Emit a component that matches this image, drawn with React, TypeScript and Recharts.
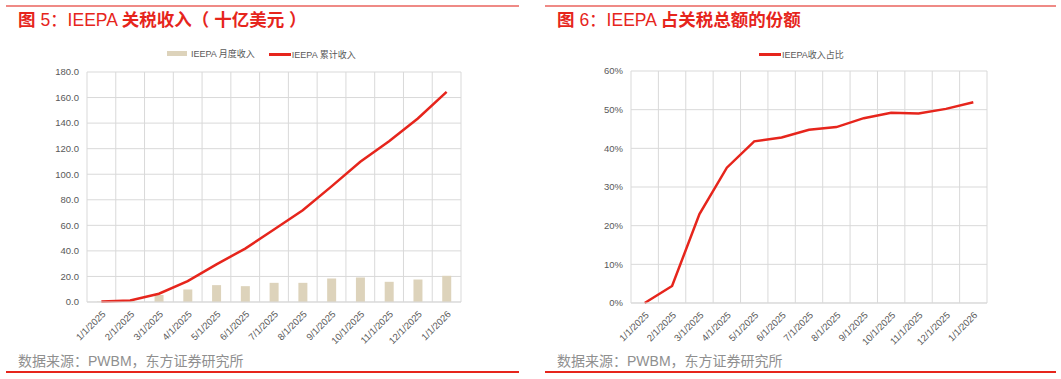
import React from "react";
import {
  Bar,
  CartesianGrid,
  ComposedChart,
  Line,
  LineChart,
  XAxis,
  YAxis,
} from "recharts";

const months = [
  "1/1/2025",
  "2/1/2025",
  "3/1/2025",
  "4/1/2025",
  "5/1/2025",
  "6/1/2025",
  "7/1/2025",
  "8/1/2025",
  "9/1/2025",
  "10/1/2025",
  "11/1/2025",
  "12/1/2025",
  "1/1/2026",
];

// 十亿美元
const monthlyRevenue = [0.3, 0.9, 5.5, 9.8, 13.2, 12.4, 15.0, 15.0, 18.4, 19.2, 15.8, 17.6, 20.5];
const cumulativeRevenue = [0.3, 1.2, 6.5, 16.3, 29.5, 41.8, 56.8, 71.8, 90.5, 109.7, 125.8, 143.6, 164.5];

// %
const ieepaShare = [0, 4.4, 23.0, 35.0, 41.8, 42.8, 44.8, 45.5, 47.8, 49.2, 49.0, 50.2, 51.9];

const revenueTicks = [0, 20, 40, 60, 80, 100, 120, 140, 160, 180];
const shareTicks = [0, 10, 20, 30, 40, 50, 60];

const RED = "#e6251c";
const BEIGE = "#ddd3bb";
const GRID = "#d9d9d9";
const TEXT = "#595959";
const FONT = '"Liberation Sans", Arial, "Noto Sans CJK SC", sans-serif';

const revenueRows = months.map((m, i) => ({
  month: m,
  monthly: monthlyRevenue[i],
  cumulative: cumulativeRevenue[i],
}));

const shareRows = months.map((m, i) => ({ month: m, share: ieepaShare[i] }));

// Excel-style category grid: vertical lines on the band boundaries
const bandLines = (n: number) => (props: any) => {
  const off = props?.offset ?? {};
  const left = off.left ?? 0;
  const width = off.width ?? 0;
  return Array.from({ length: n + 1 }, (_, i) => left + (i * width) / n);
};

const tickStyle = { fontSize: 9.5, fill: TEXT, fontFamily: FONT };

// title pieces: [text, bold]
type Piece = [string, boolean];

function Panel({
  left,
  width,
  title,
  children,
}: {
  left: number;
  width: number;
  title: Piece[];
  children: React.ReactNode;
}) {
  return (
    <div style={{ position: "absolute", left, top: 0, width, height: 379 }}>
      <div style={{ position: "absolute", left: 0, right: 0, top: 5, height: 2, background: "#ef8a86" }} />
      <div
        style={{
          position: "absolute",
          left: 12,
          top: 8,
          fontSize: 17.5,
          color: RED,
          fontFamily: FONT,
          whiteSpace: "pre",
          lineHeight: "24px",
        }}
      >
        {title.map(([t, b], i) => (
          <span key={i} style={{ fontWeight: b ? 700 : 400 }}>
            {t}
          </span>
        ))}
      </div>
      {children}
      <div
        style={{
          position: "absolute",
          left: 12,
          top: 351,
          fontSize: 14,
          color: "#8f8f8f",
          fontFamily: FONT,
          whiteSpace: "nowrap",
          lineHeight: "20px",
        }}
      >
        数据来源：PWBM，东方证券研究所
      </div>
      <div style={{ position: "absolute", left: 0, right: 0, top: 371, height: 2, background: RED }} />
    </div>
  );
}

function LegendItem({ kind, label }: { kind: "bar" | "line"; label: string }) {
  return (
    <span style={{ display: "inline-flex", alignItems: "center", marginRight: 14 }}>
      <span
        style={{
          display: "inline-block",
          width: kind === "bar" ? 20 : 22,
          height: kind === "bar" ? 5 : 3,
          background: kind === "bar" ? BEIGE : RED,
          marginRight: kind === "bar" ? 4 : 1,
        }}
      />
      <span style={{ fontSize: 9, color: TEXT, fontFamily: FONT }}>{label}</span>
    </span>
  );
}

export default function App() {
  return (
    <div style={{ position: "absolute", left: 0, top: 0, width: 1061, height: 379, background: "#fff" }}>
      <Panel
        left={6}
        width={513}
        title={[
          ["图 ", true],
          ["5：IEEPA ", false],
          ["关税收入（ 十亿美元 ）", true],
        ]}
      >
        <div style={{ position: "absolute", left: 161, top: 44, whiteSpace: "nowrap", lineHeight: "14px" }}>
          <LegendItem kind="bar" label="IEEPA 月度收入" />
          <LegendItem kind="line" label="IEEPA 累计收入" />
        </div>
        <div style={{ position: "absolute", left: -6, top: 0 }}>
          <ComposedChart
            width={530}
            height={379}
            data={revenueRows}
            margin={{ top: 72, right: 69, bottom: 37, left: 47 }}
          >
            <CartesianGrid stroke={GRID} verticalCoordinatesGenerator={bandLines(months.length)} />
            <XAxis
              dataKey="month"
              interval={0}
              height={40}
              angle={-45}
              textAnchor="end"
              tick={tickStyle}
              tickLine={false}
              axisLine={{ stroke: GRID }}
            />
            <YAxis
              width={40}
              domain={[0, 180]}
              ticks={revenueTicks}
              tickFormatter={(v: number) => v.toFixed(1)}
              tick={tickStyle}
              tickLine={false}
              axisLine={false}
            />
            <Bar dataKey="monthly" fill={BEIGE} barSize={9} isAnimationActive={false} />
            <Line
              type="linear"
              dataKey="cumulative"
              stroke={RED}
              strokeWidth={2.5}
              dot={false}
              isAnimationActive={false}
            />
          </ComposedChart>
        </div>
      </Panel>

      <Panel
        left={545}
        width={511}
        title={[
          ["图 ", true],
          ["6：IEEPA ", false],
          ["占关税总额的份额", true],
        ]}
      >
        <div style={{ position: "absolute", left: 214, top: 44, whiteSpace: "nowrap", lineHeight: "14px" }}>
          <LegendItem kind="line" label="IEEPA收入占比" />
        </div>
        <div style={{ position: "absolute", left: -5, top: 0 }}>
          <LineChart
            width={521}
            height={379}
            data={shareRows}
            margin={{ top: 71, right: 74, bottom: 36, left: 51 }}
          >
            <CartesianGrid stroke={GRID} verticalCoordinatesGenerator={bandLines(months.length)} />
            <XAxis
              dataKey="month"
              scale="band"
              interval={0}
              height={40}
              angle={-45}
              textAnchor="end"
              tick={tickStyle}
              tickLine={false}
              axisLine={{ stroke: GRID }}
            />
            <YAxis
              width={40}
              domain={[0, 60]}
              ticks={shareTicks}
              tickFormatter={(v: number) => `${v}%`}
              tick={tickStyle}
              tickLine={false}
              axisLine={false}
            />
            <Line
              type="linear"
              dataKey="share"
              stroke={RED}
              strokeWidth={2.5}
              dot={false}
              isAnimationActive={false}
            />
          </LineChart>
        </div>
      </Panel>
    </div>
  );
}
